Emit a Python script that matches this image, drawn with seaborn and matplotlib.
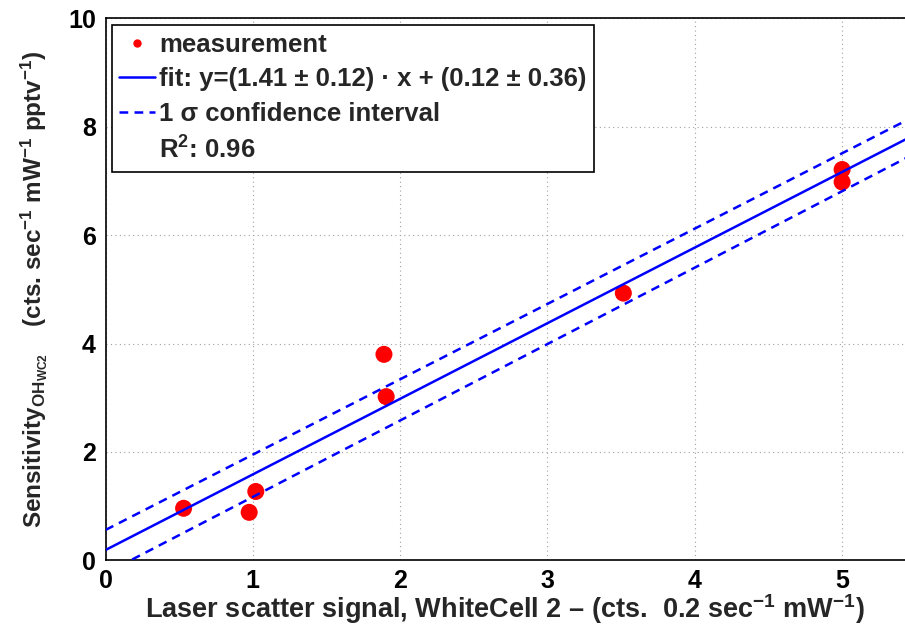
import numpy as np
import pandas as pd
import matplotlib
matplotlib.use("Agg")
import matplotlib.pyplot as plt
from matplotlib.lines import Line2D
import seaborn as sns

# ---- data ----
x_meas = [0.53, 0.975, 1.02, 1.89, 1.905, 3.515, 5.00, 5.00]
y_meas = [0.96, 0.885, 1.27, 3.80, 3.02, 4.93, 7.21, 6.98]

fit_slope, fit_intercept = 1.395, 0.19
upper_slope, upper_intercept = 1.39, 0.56
lower_slope, lower_intercept = 1.41, -0.24

x_ticks = [0, 1, 2, 3, 4, 5]
y_ticks = [0, 2, 4, 6, 8, 10]
x_lim = (0, 5.5)
y_lim = (0, 10)

legend_labels = ["measurement",
                 "fit: y=(1.41 ± 0.12) · x + (0.12 ± 0.36)",
                 "1 σ confidence interval",
                 "R$^{2}$: 0.96"]

# ---- style ----
sns.set_style("white")
plt.rcParams["font.family"] = ["Liberation Sans", "DejaVu Sans"]
plt.rcParams["font.weight"] = "bold"
plt.rcParams["mathtext.fontset"] = "custom"
plt.rcParams["mathtext.rm"] = "Liberation Sans:bold"
plt.rcParams["mathtext.it"] = "Liberation Sans:bold"
plt.rcParams["mathtext.bf"] = "Liberation Sans:bold"
plt.rcParams["mathtext.default"] = "rm"

FS_TICK = 18
FS_LEG = 18.5
FS_XLAB = 19.5
FS_YLAB = 17.5

fig = plt.figure(figsize=(9.05, 6.25), dpi=100)
ax = fig.add_axes([0.1166, 0.1035, 0.8953, 0.8672])

df = pd.DataFrame({"x": x_meas, "y": y_meas})
sns.scatterplot(data=df, x="x", y="y", ax=ax, color="red", s=150,
                edgecolor="none", zorder=2, legend=False)

xl = np.linspace(x_lim[0], x_lim[1], 50)
lines = pd.DataFrame({
    "x": xl,
    "fit": fit_slope * xl + fit_intercept,
    "up": upper_slope * xl + upper_intercept,
    "lo": lower_slope * xl + lower_intercept,
})
sns.lineplot(data=lines, x="x", y="fit", ax=ax, color="#0000ff", lw=1.8, zorder=3)
sns.lineplot(data=lines, x="x", y="up", ax=ax, color="#0000ff", lw=1.8, zorder=3)
sns.lineplot(data=lines, x="x", y="lo", ax=ax, color="#0000ff", lw=1.8, zorder=3)
for l in ax.get_lines()[1:]:
    l.set_dashes((3.5, 2.5))

ax.set_xlim(*x_lim)
ax.set_ylim(*y_lim)
ax.set_xticks(x_ticks)
ax.set_yticks(y_ticks)
ax.set_xticklabels([str(t) for t in x_ticks], fontsize=FS_TICK, fontweight="bold")
ax.set_yticklabels([str(t) for t in y_ticks], fontsize=FS_TICK, fontweight="bold")
ax.tick_params(direction="in", length=5, width=1, colors="black", pad=6)
ax.tick_params(axis="y", pad=7)
ax.grid(True, color="#a0a0a0", linestyle=(0, (1, 3)), linewidth=0.8)
for s in ax.spines.values():
    s.set_color("black")
    s.set_linewidth(1.2)

ax.set_xlabel("Laser scatter signal, WhiteCell 2 – (cts.  0.2 sec$^{-1}$ mW$^{-1}$)",
              fontsize=FS_XLAB, fontweight="bold", labelpad=0)
ax.xaxis.label.set_x(0.493)
ax.set_ylabel("Sensitivity$_{\\mathrm{OH}_{\\mathrm{WC2}}}$    (cts. sec$^{-1}$ mW$^{-1}$ pptv$^{-1}$)",
              fontsize=FS_YLAB, fontweight="bold", labelpad=13)

handles = [
    Line2D([], [], color="red", marker="o", markersize=5, linestyle="none"),
    Line2D([], [], color="#0000ff", lw=1.8),
    Line2D([], [], color="#0000ff", lw=1.8, dashes=(3.5, 2.5)),
    Line2D([], [], color="none", lw=0),
]
leg = ax.legend(handles, legend_labels, loc="upper left",
                bbox_to_anchor=(0.0077, 0.988), borderaxespad=0,
                fontsize=FS_LEG, frameon=True, fancybox=False, framealpha=1,
                edgecolor="black", handlelength=1.4, handletextpad=0.15,
                labelspacing=0.42, borderpad=0.3)
leg.get_frame().set_linewidth(1.2)
for t in leg.get_texts():
    t.set_fontweight("bold")

fig.savefig("out.png", dpi=100)
